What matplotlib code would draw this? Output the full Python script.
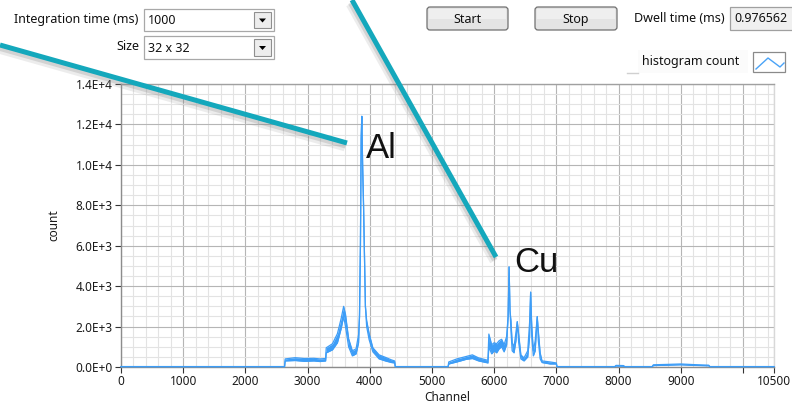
import numpy as np
import matplotlib
matplotlib.use("Agg")
import matplotlib.pyplot as plt
import matplotlib.patches as mpatches
import matplotlib.patheffects as pe
from matplotlib.ticker import MultipleLocator

plt.rcParams["font.family"] = ["Noto Sans", "DejaVu Sans"]

# spectrum: channel, lower / upper edge of the noisy trace
channel = [0, 2630, 2640, 2800, 2950, 3100, 3200, 3290, 3300, 3400, 3480, 3540,
           3580, 3610, 3660, 3720, 3780, 3820, 3835, 3850, 3862, 3872, 3885, 3900,
           3915, 3930, 3950, 3990, 4050, 4150, 4250, 4350, 4400, 4410,
           5260, 5270, 5400, 5550, 5650, 5750, 5900, 5915, 5960, 6000, 6040, 6080,
           6120, 6160, 6200, 6225, 6240, 6255, 6270, 6290, 6320, 6350, 6372, 6395,
           6430, 6480, 6540, 6570, 6587, 6605, 6630, 6660, 6693, 6710, 6740, 6770,
           6900, 7000, 7010, 7940, 7960, 8080, 8100, 8540, 8560, 8800, 9000, 9200,
           9450, 9470, 10500]
count_lo = [20, 20, 300, 320, 280, 300, 270, 300, 700, 850, 1200, 1900,
            2500, 2000, 1000, 550, 650, 1200, 2500, 6000, 11300, 12400, 10000, 8000,
            5500, 3000, 2000, 1350, 750, 400, 300, 220, 200, 20,
            20, 150, 250, 380, 420, 300, 200, 1000, 650, 800, 700, 900,
            1000, 750, 1100, 2500, 4950, 2800, 1800, 800, 700, 1300, 2240, 1200,
            400, 300, 500, 1500, 3700, 1500, 550, 800, 2490, 1300, 400, 220,
            150, 150, 20, 20, 50, 40, 20, 20, 70, 90, 110, 80,
            60, 20, 20]
count_hi = [20, 20, 400, 460, 420, 430, 400, 420, 950, 1150, 1650, 2400,
            3000, 2600, 1400, 800, 900, 1600, 2500, 6000, 11300, 12400, 10000, 8000,
            5500, 3000, 2300, 1650, 950, 600, 480, 350, 300, 20,
            20, 250, 400, 520, 600, 450, 330, 1630, 1100, 1200, 1150, 1300,
            1370, 1100, 1500, 2500, 4950, 2800, 2300, 1200, 1000, 1700, 2240, 1600,
            600, 450, 800, 2200, 3700, 2000, 800, 1300, 2490, 1800, 700, 300,
            250, 200, 20, 20, 80, 70, 20, 20, 110, 130, 150, 120,
            90, 20, 20]

x_ticks = [0, 1000, 2000, 3000, 4000, 5000, 6000, 7000, 8000, 9000, 10000, 10500]
x_tick_labels = ["0", "1000", "2000", "3000", "4000", "5000", "6000", "7000",
                 "8000", "9000", "", "10500"]
y_ticks = [0, 2000, 4000, 6000, 8000, 10000, 12000, 14000]
y_tick_labels = ["0.0E+0", "2.0E+3", "4.0E+3", "6.0E+3", "8.0E+3",
                 "1.0E+4", "1.2E+4", "1.4E+4"]

W, H = 792, 409
fig = plt.figure(figsize=(W / 100, H / 100), dpi=100)
fig.patch.set_facecolor("white")

# ---- graph
ax = fig.add_axes([121 / W, 1 - 367 / H, (774 - 121) / W, (367 - 84) / H])
blue = "#3d9df7"
ax.fill_between(channel, count_lo, count_hi, color=blue, lw=0, zorder=3)
ax.plot(channel, count_lo, color=blue, lw=0.9, zorder=3, clip_on=False)
ax.plot(channel, count_hi, color=blue, lw=0.9, zorder=3, clip_on=False)

ax.set_xlim(0, 10500)
ax.set_ylim(0, 14000)
ax.set_xticks(x_ticks)
ax.set_xticklabels(x_tick_labels)
ax.set_yticks(y_ticks)
ax.set_yticklabels(y_tick_labels)
ax.xaxis.set_minor_locator(MultipleLocator(200))
ax.yaxis.set_minor_locator(MultipleLocator(500))
ax.set_axisbelow(True)
ax.grid(which="minor", color="#e3e3e3", lw=0.8)
ax.grid(which="major", color="#b5b5b5", lw=0.8)
ax.tick_params(which="minor", length=0)
ax.tick_params(which="major", direction="out", length=4, width=0.8,
               color="#333333", labelsize=8.5, pad=2, labelcolor="#1a1a1a")
for side, col in [("left", "#8c8c8c"), ("bottom", "#8c8c8c"),
                  ("top", "#a0a0a0"), ("right", "#d8d8d8")]:
    ax.spines[side].set_color(col)
    ax.spines[side].set_linewidth(1.0)
ax.set_ylabel("count", fontsize=8.5, color="#1a1a1a")
ax.yaxis.set_label_coords(-0.093, 0.5)
ax.set_xlabel("Channel", fontsize=8.5, color="#1a1a1a")
ax.xaxis.set_label_coords(0.5, -0.085)

# ---- front panel widgets, pixel coordinates
ui = fig.add_axes([0, 0, 1, 1], zorder=5)
ui.set_xlim(0, W)
ui.set_ylim(H, 0)
ui.axis("off")

def combo(x0, y0, w, h, text):
    ui.add_patch(mpatches.Rectangle((x0, y0), w, h, fc="white", ec="#a8a8a8", lw=0.9))
    ui.text(x0 + 4, y0 + h / 2 + 1, text, va="center", ha="left", fontsize=9, color="#111")
    bx = x0 + w - 20
    ui.add_patch(mpatches.Rectangle((bx, y0 + 3), 17, h - 6, fc="#ededed", ec="#8f8f8f", lw=0.8))
    cy = y0 + h / 2
    ui.add_patch(mpatches.Polygon([[bx + 5, cy - 1.5], [bx + 12, cy - 1.5], [bx + 8.5, cy + 2.5]],
                                  closed=True, fc="black", ec="none"))

def button(x0, y0, w, h, text):
    ui.add_patch(mpatches.FancyBboxPatch((x0, y0), w, h,
                 boxstyle="round,pad=0,rounding_size=3",
                 fc="#e4e4e4", ec="#707070", lw=0.9))
    ui.add_patch(mpatches.Rectangle((x0 + 2, y0 + 2), w - 4, h / 2 - 2, fc="#efefef", ec="none"))
    ui.text(x0 + w / 2, y0 + h / 2 + 1, text, ha="center", va="center", fontsize=9, color="#111")

ui.text(138, 19, "Integration time (ms)", ha="right", va="center", fontsize=9, color="#111")
combo(144, 9, 130, 22, "1000")
ui.text(139, 46, "Size", ha="right", va="center", fontsize=9, color="#111")
combo(144, 36, 130, 23, "32 x 32")
button(427, 7, 81, 23, "Start")
button(535, 7, 82, 23, "Stop")
ui.text(634, 19, "Dwell time (ms)", ha="left", va="center", fontsize=9, color="#111")
ui.add_patch(mpatches.Rectangle((730, 7), 70, 23, fc="#f0f0f0", ec="#a0a0a0", lw=0.9, clip_on=False))
ui.text(734, 19, "0.976562", ha="left", va="center", fontsize=9, color="#111")

# legend
ui.plot([627, 638], [73, 73], color="#d0d0d0", lw=1)
ui.add_patch(mpatches.Rectangle((638, 50), 110, 23, fc="#fbfbfb", ec="none"))
ui.text(642, 62, "histogram count", ha="left", va="center", fontsize=9, color="#111")
ui.add_patch(mpatches.Rectangle((753, 52), 32, 20, fc="white", ec="#8a8a8a", lw=0.9))
ui.plot([756, 768, 780, 784], [69, 58, 67, 63], color="#4aa3f7", lw=1.0)

# annotation lines with a soft drop shadow
teal = "#14a8bc"
shadow = [pe.SimpleLineShadow(offset=(-1.5, -3), shadow_color="#999999", alpha=0.18, linewidth=6),
          pe.SimpleLineShadow(offset=(-1, -2), shadow_color="#777777", alpha=0.22, linewidth=4),
          pe.Normal()]
ui.plot([0, 347], [45, 143], color=teal, lw=3.6, solid_capstyle="butt",
        path_effects=shadow, clip_on=False)
ui.plot([352, 496], [0, 257], color=teal, lw=3.6, solid_capstyle="butt",
        path_effects=shadow, clip_on=False)
ui.text(366, 158, "Al", ha="left", va="baseline", fontsize=25,
        family="Liberation Sans", color="#111")
ui.text(514, 272, "Cu", ha="left", va="baseline", fontsize=25,
        family="Liberation Sans", color="#111")

fig.savefig("out.png", dpi=100, facecolor="white")
